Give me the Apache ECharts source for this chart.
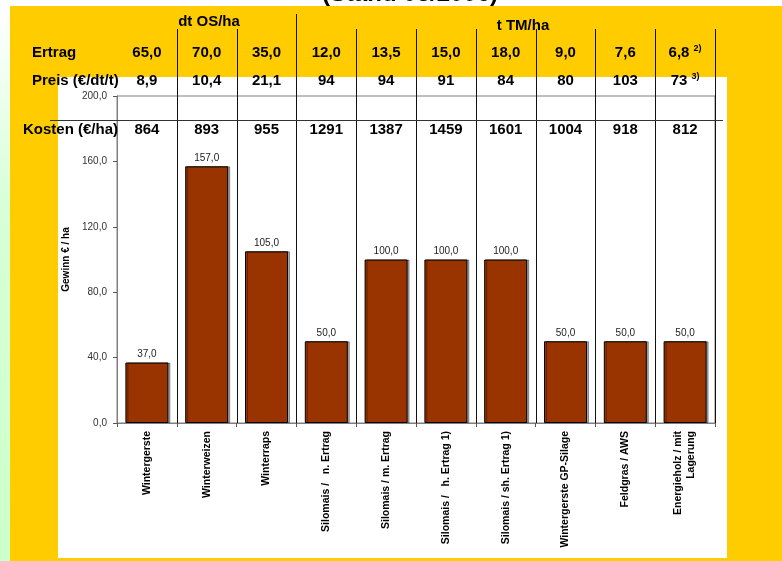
<!DOCTYPE html>
<html>
<head>
<meta charset="utf-8">
<script src="https://cdn.jsdelivr.net/npm/echarts@6/dist/echarts.min.js"></script>
<style>
  html, body { margin: 0; padding: 0; background: #fff; }
  #chart { width: 782px; height: 561px; }
</style>
</head>
<body>
<div id="chart"></div>
<script>
// Crops and profit per hectare
const categories = [
  'Wintergerste',
  'Winterweizen',
  'Winterraps',
  'Silomais /   n. Ertrag',
  'Silomais / m. Ertrag',
  'Silomais /   h. Ertrag 1)',
  'Silomais / sh. Ertrag 1)',
  'Wintergerste GP-Silage',
  'Feldgras / AWS',
  'Energieholz / mit\nLagerung'
];
const gewinn = [37, 157, 105, 50, 100, 100, 100, 50, 50, 50];

// Table rows shown above the plot
const ertrag = ['65,0', '70,0', '35,0', '12,0', '13,5', '15,0', '18,0', '9,0', '7,6', '6,8'];
const ertragNote = ['', '', '', '', '', '', '', '', '', '2)'];
const preis = ['8,9', '10,4', '21,1', '94', '94', '91', '84', '80', '103', '73'];
const preisNote = ['', '', '', '', '', '', '', '', '', '3)'];
const kosten = ['864', '893', '955', '1291', '1387', '1459', '1601', '1004', '918', '812'];

const yTicks = [0, 40, 80, 120, 160, 200];

const FONT = '"Liberation Sans", Arial, sans-serif';
const fmt = v => v.toFixed(1).replace('.', ',');

const chart = echarts.init(document.getElementById('chart'), null, { renderer: 'canvas' });

chart.setOption({
  animation: false,
  backgroundColor: '#ffffff',
  grid: {
    left: 117, right: 67, top: 96, bottom: 138,
    show: true, borderColor: '#7f7f7f', borderWidth: 1, backgroundColor: 'transparent'
  },
  xAxis: {
    type: 'category',
    data: categories,
    axisLine: { lineStyle: { color: '#7f7f7f', width: 1 } },
    axisTick: { show: true, alignWithLabel: false, length: 4, lineStyle: { color: '#555' } },
    axisLabel: {
      interval: 0, rotate: 90, margin: 8,
      fontFamily: FONT, fontSize: 10.5, fontWeight: 'bold', color: '#000', lineHeight: 13
    },
    splitLine: { show: false }
  },
  yAxis: {
    type: 'value',
    min: yTicks[0], max: yTicks[yTicks.length - 1], interval: 40,
    name: 'Gewinn € / ha',
    nameLocation: 'middle',
    nameGap: 42,
    nameRotate: 90,
    nameTextStyle: { fontFamily: FONT, fontSize: 10, fontWeight: 'bold', color: '#000' },
    axisLine: { show: true, lineStyle: { color: '#7f7f7f', width: 1 } },
    axisTick: { show: true, length: 4, lineStyle: { color: '#555' } },
    axisLabel: { formatter: v => fmt(v), fontFamily: FONT, fontSize: 10, color: '#333', margin: 10 },
    splitLine: { show: false }
  },
  series: [{
    type: 'bar',
    data: gewinn,
    barWidth: 43,
    itemStyle: {
      color: '#993300', borderColor: '#000', borderWidth: 1,
      shadowColor: 'rgba(0,0,0,0.35)', shadowOffsetX: 2, shadowOffsetY: 0, shadowBlur: 0
    },
    label: {
      show: true, position: 'top', distance: 3,
      formatter: p => fmt(p.value),
      fontFamily: FONT, fontSize: 10, color: '#222'
    }
  }]
});

// Column positions from the category axis
const centers = categories.map((c, i) => chart.convertToPixel({ xAxisIndex: 0 }, i));
const band = centers[1] - centers[0];
const bottomPx = chart.convertToPixel({ yAxisIndex: 0 }, 0);

const g = [];
// Page background panels
g.push({ type: 'rect', z: -30, shape: { x: 0, y: 0, width: 782, height: 561 }, style: { fill: '#ffffff' } });
g.push({
  type: 'rect', z: -29, shape: { x: 0, y: 6, width: 10, height: 555 },
  style: { fill: new echarts.graphic.LinearGradient(0, 0, 0, 1, [
    { offset: 0, color: '#ffffff' }, { offset: 0.35, color: '#d8ffd8' }, { offset: 1, color: '#ccffcc' }
  ]) }
});
g.push({ type: 'rect', z: -28, shape: { x: 10, y: 6, width: 772, height: 555 }, style: { fill: '#ffcc00' } });
g.push({ type: 'rect', z: -27, shape: { x: 58, y: 77, width: 669, height: 481 }, style: { fill: '#ffffff' } });

// Heading above the table (runs off the top edge)
g.push({
  type: 'text', z: 20, x: 410, y: -6,
  style: { text: '(Stand 03/2006)', fontFamily: FONT, fontSize: 24, fontWeight: 'bold', fill: '#000', align: 'center', verticalAlign: 'middle' }
});

// Column separators through the table and plot
for (let k = 1; k <= categories.length; k++) {
  const x = Math.round(centers[k - 1] + band / 2) + 0.5;
  const top = (k === 3) ? 14 : 29;
  g.push({ type: 'line', z: 20, shape: { x1: x, y1: top, x2: x, y2: bottomPx }, style: { stroke: '#111', lineWidth: 1 } });
}
// Line above the cost row
g.push({ type: 'line', z: 20, shape: { x1: 50, y1: 120.5, x2: 723, y2: 120.5 }, style: { stroke: '#333', lineWidth: 1 } });

// Unit headings
g.push({ type: 'text', z: 20, x: 209, y: 22, style: { text: 'dt OS/ha', fontFamily: FONT, fontSize: 15, fontWeight: 'bold', fill: '#000', align: 'center', verticalAlign: 'middle' } });
g.push({ type: 'text', z: 20, x: 523, y: 26, style: { text: 't TM/ha', fontFamily: FONT, fontSize: 15, fontWeight: 'bold', fill: '#000', align: 'center', verticalAlign: 'middle' } });

// Row titles
const rowTitle = (txt, x, y) => g.push({ type: 'text', z: 20, x, y, style: { text: txt, fontFamily: FONT, fontSize: 15, fontWeight: 'bold', fill: '#000', align: 'left', verticalAlign: 'middle' } });
rowTitle('Ertrag', 32, 53);
rowTitle('Preis (€/dt/t)', 32, 81);
rowTitle('Kosten (€/ha)', 23, 130);

// Row values, one per column
const rowValues = (vals, notes, y) => vals.forEach((v, i) => {
  const note = notes && notes[i];
  g.push({
    type: 'text', z: 20, x: centers[i], y,
    style: {
      text: note ? '{v|' + v + '} {s|' + note + '}' : v,
      fontFamily: FONT, fontSize: 15, fontWeight: 'bold', fill: '#000', align: 'center', verticalAlign: 'middle',
      rich: {
        v: { fontFamily: FONT, fontSize: 15, fontWeight: 'bold', fill: '#000', lineHeight: 18 },
        s: { fontFamily: FONT, fontSize: 9, fontWeight: 'bold', fill: '#000', verticalAlign: 'top', lineHeight: 18, padding: [0, 0, 8, 0] }
      }
    }
  });
});
rowValues(ertrag, ertragNote, 53);
rowValues(preis, preisNote, 81);
rowValues(kosten, null, 130);

chart.setOption({ graphic: { elements: g } });
</script>
</body>
</html>
